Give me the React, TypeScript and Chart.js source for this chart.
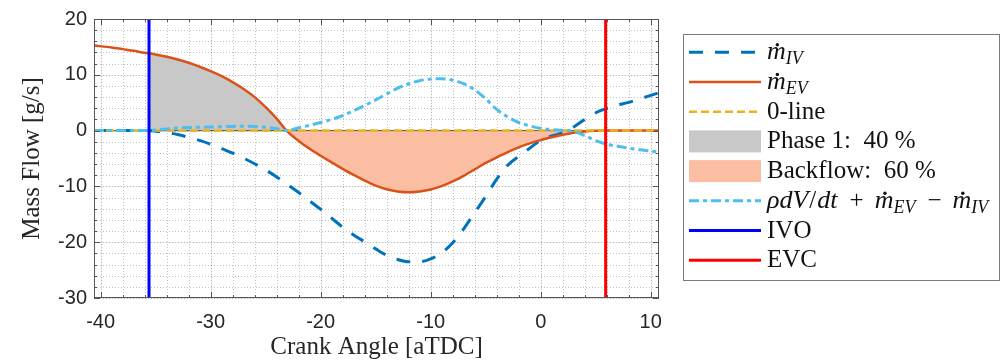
import { useEffect, useRef } from "react";
import { Chart, registerables } from "chart.js";

Chart.register(...registerables);

// Crank angle grid [deg aTDC]
const CRANK_ANGLE = [
  -40.6, -39, -38, -37, -36, -35.6, -35, -34, -33, -32, -31, -30, -29, -28, -27, -26, -25, -24, -23.1,
  -22, -21, -20, -19, -18, -17, -16, -15, -14, -13, -12, -11, -10, -9, -8, -7, -6, -5, -4, -3, -2, -1,
  0, 1, 2, 3, 4, 5, 5.9, 7, 8, 9, 10, 10.75,
];

// Intake valve mass flow [g/s]
const M_IV = [
  0, 0, 0, 0, 0, 0, -0.1, -0.35, -0.7, -1.2, -1.75, -2.45, -3.25, -4.05, -4.95, -5.95, -7.05, -8.3, -9.55,
  -11.1, -12.6, -14.1, -15.7, -17.3, -18.7, -19.95, -21.2, -22.35, -23.1, -23.5, -23.5, -23.0, -21.9, -20.1, -17.6, -14.7, -11.8, -8.7, -6.2, -4.6, -3.15,
  -1.7, -0.95, -0.4, 0.65, 2.0, 3.2, 3.9, 4.6, 5.05, 5.7, 6.3, 6.8,
];

// Exhaust valve mass flow [g/s]
const M_EV = [
  15.25, 14.9, 14.6, 14.3, 13.95, 13.85, 13.65, 13.25, 12.75, 12.15, 11.45, 10.65, 9.75, 8.7, 7.45, 6.0, 4.2, 2.15, 0,
  -1.85, -3.25, -4.5, -5.7, -6.85, -7.95, -8.95, -9.85, -10.5, -10.9, -11.05, -10.9, -10.55, -9.95, -9.1, -8.1, -6.95, -5.8, -4.8, -3.85, -3.0, -2.3,
  -1.7, -1.2, -0.75, -0.4, -0.15, -0.03, 0, 0, 0, 0, 0, 0,
];

// Cylinder balance rho*dV/dt + m_EV - m_IV [g/s]
const M_BALANCE = [
  0, 0, 0, 0, 0, 0, 0.1, 0.3, 0.45, 0.55, 0.6, 0.65, 0.7, 0.75, 0.8, 0.75, 0.6, 0.35, 0,
  0.5, 0.95, 1.45, 2.0, 2.7, 3.55, 4.5, 5.5, 6.55, 7.6, 8.4, 8.95, 9.25, 9.3, 9.05, 8.4, 7.3, 5.7, 3.8, 2.45, 1.45, 0.85,
  0.4, 0.2, 0.05, -0.15, -0.9, -1.8, -2.4, -2.8, -3.15, -3.45, -3.65, -3.85,
];

const IVO_ANGLE = -35.6;
const EVC_ANGLE = 5.9;
const PHASE1_SHARE = 40;
const BACKFLOW_SHARE = 60;

const X_RANGE = [-40.6, 10.75];
const Y_RANGE = [-30, 20];
const X_TICKS = [-40, -30, -20, -10, 0, 10];
const Y_TICKS = [-30, -20, -10, 0, 10, 20];
const MINOR_STEP = 2;

const SANS = '"Liberation Sans", Arial, Helvetica, sans-serif';
const SERIF = '"Liberation Serif", "Times New Roman", serif';
const TEXT = "#262626";

const C_IV = "#0072BD";
const C_EV = "#D95319";
const C_ZERO = "#EDB120";
const C_BAL = "#4DBEEE";
const C_IVO = "#0000FF";
const C_EVC = "#FF0000";
const C_PHASE1 = "#C8C8C8";
const C_BACKFLOW = "#FBBEA3";

const DASH_IV = [14, 12];
const DASH_ZERO = [8, 4];
const DASH_BAL = [10, 4, 4, 4];

type Part = [string, "r" | "i" | "m" | "sub" | "op"];

const LEGEND: { kind: "line" | "patch"; color: string; width?: number; dash?: number[]; parts: Part[] }[] = [
  { kind: "line", color: C_IV, width: 3, dash: DASH_IV, parts: [["m", "m"], ["IV", "sub"]] },
  { kind: "line", color: C_EV, width: 2.5, parts: [["m", "m"], ["EV", "sub"]] },
  { kind: "line", color: C_ZERO, width: 2.5, dash: DASH_ZERO, parts: [["0-line", "r"]] },
  { kind: "patch", color: C_PHASE1, parts: [[`Phase 1:  ${PHASE1_SHARE} %`, "r"]] },
  { kind: "patch", color: C_BACKFLOW, parts: [[`Backflow:  ${BACKFLOW_SHARE} %`, "r"]] },
  {
    kind: "line", color: C_BAL, width: 3, dash: DASH_BAL,
    parts: [["ρdV", "i"], ["/", "r"], ["dt", "i"], ["+", "op"], ["m", "m"], ["EV", "sub"], ["−", "op"], ["m", "m"], ["IV", "sub"]],
  },
  { kind: "line", color: C_IVO, width: 3, parts: [["IVO", "r"]] },
  { kind: "line", color: C_EVC, width: 3, parts: [["EVC", "r"]] },
];

const curve = (ys: number[]) => CRANK_ANGLE.map((x, i) => ({ x, y: ys[i] }));
const vertical = (x: number) => [{ x, y: Y_RANGE[0] }, { x, y: Y_RANGE[1] }];

function drawParts(ctx: CanvasRenderingContext2D, parts: Part[], x: number, baseline: number) {
  for (const [text, style] of parts) {
    if (style === "sub") {
      ctx.font = `italic 18px ${SERIF}`;
      ctx.fillText(text, x, baseline + 5);
      x += ctx.measureText(text).width + 1;
    } else if (style === "m") {
      ctx.font = `italic 26px ${SERIF}`;
      const w = ctx.measureText(text).width;
      ctx.fillText(text, x, baseline);
      ctx.beginPath();
      ctx.arc(x + w * 0.55, baseline - 14.5, 1.7, 0, Math.PI * 2);
      ctx.fill();
      x += w;
    } else if (style === "op") {
      ctx.font = `25px ${SERIF}`;
      x += 11;
      ctx.fillText(text, x, baseline);
      x += ctx.measureText(text).width + 11;
    } else if (style === "i") {
      ctx.font = `italic 26px ${SERIF}`;
      ctx.fillText(text, x, baseline);
      x += ctx.measureText(text).width + 1;
    } else {
      ctx.font = `25px ${SERIF}`;
      ctx.fillText(text, x, baseline);
      x += ctx.measureText(text).width + 1;
    }
  }
}

const axesDecor = {
  id: "axesDecor",
  beforeDatasetsDraw(chart: any) {
    const { ctx, chartArea: a, scales } = chart;
    const xs = scales.x, ys = scales.y;
    ctx.save();
    ctx.lineWidth = 1;
    // minor grid (dotted)
    ctx.strokeStyle = "rgba(38,38,38,0.28)";
    ctx.setLineDash([1, 2]);
    for (let v = X_TICKS[0]; v <= X_TICKS[X_TICKS.length - 1]; v += MINOR_STEP) {
      const p = Math.round(xs.getPixelForValue(v)) + 0.5;
      ctx.beginPath(); ctx.moveTo(p, a.top); ctx.lineTo(p, a.bottom); ctx.stroke();
    }
    for (let v = Y_TICKS[0]; v <= Y_TICKS[Y_TICKS.length - 1]; v += MINOR_STEP) {
      const p = Math.round(ys.getPixelForValue(v)) + 0.5;
      ctx.beginPath(); ctx.moveTo(a.left, p); ctx.lineTo(a.right, p); ctx.stroke();
    }
    // major grid
    ctx.setLineDash([]);
    ctx.strokeStyle = "rgba(38,38,38,0.08)";
    for (const v of X_TICKS) {
      const p = Math.round(xs.getPixelForValue(v)) + 0.5;
      ctx.beginPath(); ctx.moveTo(p, a.top); ctx.lineTo(p, a.bottom); ctx.stroke();
    }
    for (const v of Y_TICKS) {
      const p = Math.round(ys.getPixelForValue(v)) + 0.5;
      ctx.beginPath(); ctx.moveTo(a.left, p); ctx.lineTo(a.right, p); ctx.stroke();
    }
    ctx.restore();
  },
  afterDatasetsDraw(chart: any) {
    const { ctx, chartArea: a, scales } = chart;
    const xs = scales.x, ys = scales.y;
    ctx.save();
    ctx.strokeStyle = "#555";
    ctx.lineWidth = 1;
    ctx.strokeRect(a.left + 0.5, a.top + 0.5, a.right - a.left - 1, a.bottom - a.top - 1);
    const tick = (v: number, major: boolean, horiz: boolean) => {
      const len = major ? 6 : 3;
      if (horiz) {
        const p = Math.round(xs.getPixelForValue(v)) + 0.5;
        ctx.beginPath();
        ctx.moveTo(p, a.bottom); ctx.lineTo(p, a.bottom - len);
        ctx.moveTo(p, a.top); ctx.lineTo(p, a.top + len);
        ctx.stroke();
      } else {
        const p = Math.round(ys.getPixelForValue(v)) + 0.5;
        ctx.beginPath();
        ctx.moveTo(a.left, p); ctx.lineTo(a.left + len, p);
        ctx.moveTo(a.right, p); ctx.lineTo(a.right - len, p);
        ctx.stroke();
      }
    };
    for (let v = X_TICKS[0]; v <= X_TICKS[X_TICKS.length - 1]; v += MINOR_STEP) tick(v, X_TICKS.includes(v), true);
    for (let v = Y_TICKS[0]; v <= Y_TICKS[Y_TICKS.length - 1]; v += MINOR_STEP) tick(v, Y_TICKS.includes(v), false);
    ctx.restore();
  },
  afterDraw(chart: any) {
    const { ctx } = chart;
    const box = { x: 683.5, y: 34.5, w: 316, h: 246 };
    const rowTop = 52.3, rowStep = 29.7;
    const sx0 = 689, sx1 = 761, tx = 767;
    ctx.save();
    ctx.fillStyle = "#fff";
    ctx.fillRect(box.x, box.y, box.w, box.h);
    ctx.strokeStyle = "#7a7a7a";
    ctx.lineWidth = 1;
    ctx.strokeRect(box.x, box.y, box.w, box.h);
    LEGEND.forEach((item, i) => {
      const cy = rowTop + i * rowStep;
      if (item.kind === "patch") {
        ctx.fillStyle = item.color;
        ctx.fillRect(sx0, cy - 11, sx1 - sx0, 22);
      } else {
        ctx.strokeStyle = item.color;
        ctx.lineWidth = item.width || 2;
        ctx.setLineDash(item.dash || []);
        ctx.beginPath(); ctx.moveTo(sx0, cy); ctx.lineTo(sx1, cy); ctx.stroke();
        ctx.setLineDash([]);
      }
      ctx.fillStyle = "#111";
      ctx.textBaseline = "alphabetic";
      ctx.textAlign = "left";
      drawParts(ctx, item.parts, tx, cy + 7);
    });
    ctx.restore();
  },
};

export default function App() {
  const ref = useRef<HTMLCanvasElement | null>(null);

  useEffect(() => {
    if (!ref.current) return;
    const ev = curve(M_EV);
    const ivoIdx = CRANK_ANGLE.indexOf(IVO_ANGLE);
    const crossIdx = M_EV.findIndex((v, i) => i > ivoIdx && v <= 0);
    const closeIdx = M_EV.findIndex((v, i) => i > crossIdx && v >= 0);
    const line = { pointRadius: 0, pointHoverRadius: 0, fill: false, tension: 0 };
    const smooth = { ...line, cubicInterpolationMode: "monotone" as const };

    const chart = new Chart(ref.current, {
      type: "line",
      data: {
        datasets: [
          { ...line, label: "EVC", data: vertical(EVC_ANGLE), borderColor: C_EVC, borderWidth: 3, order: 1 },
          { ...line, label: "IVO", data: vertical(IVO_ANGLE), borderColor: C_IVO, borderWidth: 3, order: 2 },
          { ...smooth, label: "balance", data: curve(M_BALANCE), borderColor: C_BAL, borderWidth: 3, borderDash: DASH_BAL, order: 3 },
          { ...line, label: "0-line", data: [{ x: X_RANGE[0], y: 0 }, { x: X_RANGE[1], y: 0 }], borderColor: C_ZERO, borderWidth: 2.5, borderDash: DASH_ZERO, order: 4 },
          { ...smooth, label: "m_EV", data: ev, borderColor: C_EV, borderWidth: 2.5, order: 5 },
          { ...smooth, label: "m_IV", data: curve(M_IV), borderColor: C_IV, borderWidth: 3, borderDash: DASH_IV, order: 6 },
          { ...line, label: "baseline", data: [{ x: X_RANGE[0], y: 0 }, { x: X_RANGE[1], y: 0 }], borderColor: "#555", borderWidth: 1, order: 7 },
          { ...smooth, label: "Backflow", data: ev.slice(crossIdx, closeIdx + 1), borderWidth: 0, borderColor: "rgba(0,0,0,0)", backgroundColor: C_BACKFLOW, fill: "origin", order: 8 },
          { ...smooth, label: "Phase 1", data: ev.slice(ivoIdx, crossIdx + 1), borderWidth: 0, borderColor: "rgba(0,0,0,0)", backgroundColor: C_PHASE1, fill: "origin", order: 9 },
        ],
      },
      options: {
        animation: false,
        responsive: true,
        maintainAspectRatio: false,
        devicePixelRatio: 1,
        layout: { padding: { left: 0, right: 345, top: 16, bottom: 0 } },
        plugins: { legend: { display: false }, tooltip: { enabled: false } },
        events: [],
        scales: {
          x: {
            type: "linear",
            min: X_RANGE[0],
            max: X_RANGE[1],
            afterBuildTicks: (s: any) => { s.ticks = X_TICKS.map((value) => ({ value })); },
            afterFit: (s: any) => { s.height = 66; },
            grid: { display: false, drawTicks: false },
            border: { display: false },
            ticks: { color: TEXT, font: { family: SANS, size: 20 }, padding: 12, maxRotation: 0, autoSkip: false, callback: (v: any) => String(v) },
            title: { display: true, text: "Crank Angle [aTDC]", color: TEXT, font: { family: SERIF, size: 25 }, padding: { top: 0, bottom: 2 } },
          },
          y: {
            type: "linear",
            min: Y_RANGE[0],
            max: Y_RANGE[1],
            afterBuildTicks: (s: any) => { s.ticks = Y_TICKS.map((value) => ({ value })); },
            afterFit: (s: any) => { s.width = 94; },
            grid: { display: false, drawTicks: false },
            border: { display: false },
            ticks: { color: TEXT, font: { family: SANS, size: 20 }, padding: 7, autoSkip: false, callback: (v: any) => String(v) },
            title: { display: true, text: "Mass Flow [g/s]", color: TEXT, font: { family: SERIF, size: 25 }, padding: { top: 17, bottom: 0 } },
          },
        },
      },
      plugins: [axesDecor],
    });
    return () => chart.destroy();
  }, []);

  return (
    <div style={{ position: "fixed", left: 0, top: 0, width: 1004, height: 364, background: "#fff" }}>
      <canvas ref={ref} />
    </div>
  );
}
